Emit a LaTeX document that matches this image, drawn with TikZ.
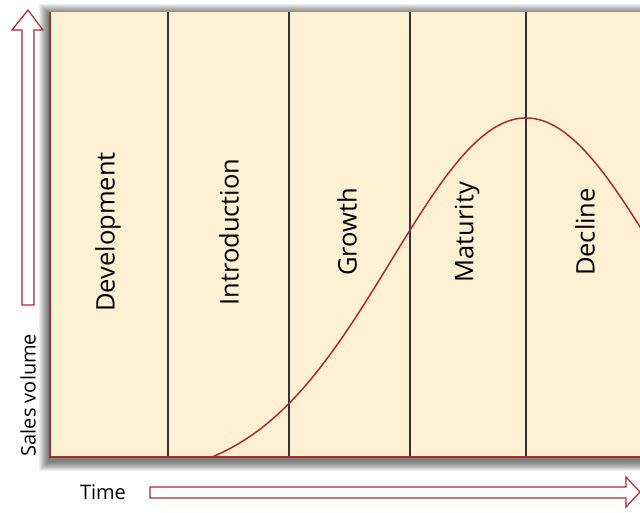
\documentclass[tikz,border=0pt]{standalone}
\usepackage{fontspec}
\setmainfont{Open Sans}
\usetikzlibrary{positioning}
\definecolor{cream}{HTML}{FEF0D2}
\definecolor{darkred}{HTML}{AE2A30}

\begin{document}
\begin{tikzpicture}[x=1pt,y=-1pt,line join=miter,
  stage/.style={rotate=90,font=\fontsize{25.5}{25.5}\selectfont},
  axislabel/.style={font=\fontsize{20}{20}\selectfont},
  bigarrow/.style={draw=darkred,fill=white,line width=1.2pt}]
\useasboundingbox (0,0) rectangle (640,512);
% soft shadow round the panel
\foreach \i in {1,...,10}
  \fill[black,opacity=0.065] (49-\i,14-\i) rectangle (660,459+\i+2);
\fill[cream] (50,12) rectangle (660,457);
\foreach \x in {168,289,410,526}
  \draw[line width=1.3pt,black!80] (\x,12) -- (\x,456);
\draw[darkred,line width=1.5pt] (50,12) -- (50,457);
\draw[darkred,line width=2.5pt] (49,457) -- (660,457);

\node[stage] at (108,232) (dev) {Development};
\node[stage] at (229,232) (intro) {Introduction};
\node[stage] at (347,232) (growth) {Growth};
\node[stage] at (467,232) (mat) {Maturity};
\node[stage] at (585,232) (decl) {Decline};

% sales curve
\draw[darkred,line width=1.5pt] plot[domain=212:660,samples=120]
  (\x,{457-339*(exp(-0.5*((\x-526)/135)^2)-0.0669)/0.9331});

% axes
\draw[bigarrow] (22,305) -- (22,30) -- (12,30) -- (28,10) -- (43,30) -- (34,30) -- (34,305) -- cycle;
\draw[bigarrow] (150,487) -- (626,487) -- (626,477) -- (640,492) -- (626,507) -- (626,498) -- (150,498) -- cycle;
\node[axislabel,rotate=90] at (28,395) (sales) {Sales volume};
\node[axislabel] at (103,492) (time) {Time};
\end{tikzpicture}
\end{document}
